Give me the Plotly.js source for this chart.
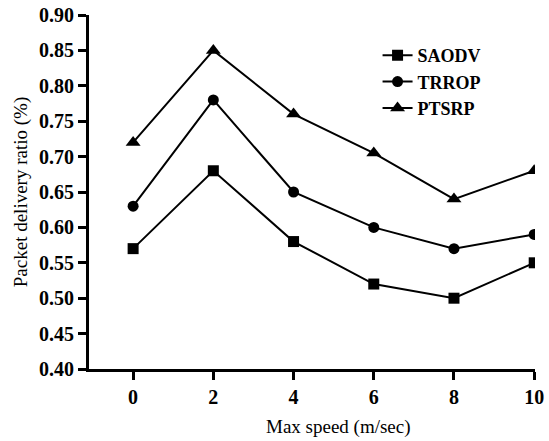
<!DOCTYPE html>
<html>
<head>
<meta charset="utf-8">
<script src="https://cdn.plot.ly/plotly-3.0.1.min.js"></script>
<style>html,body{margin:0;padding:0;background:#fff;}#chart{width:549px;height:441px;}</style>
</head>
<body>
<div id="chart"></div>
<script>
const speeds = [0, 2, 4, 6, 8, 10];
const saodv = [0.57, 0.68, 0.58, 0.52, 0.50, 0.55];
const trrop = [0.63, 0.78, 0.65, 0.60, 0.57, 0.59];
const ptsrp = [0.72, 0.85, 0.76, 0.705, 0.64, 0.68];
const yTicks = [0.40, 0.45, 0.50, 0.55, 0.60, 0.65, 0.70, 0.75, 0.80, 0.85, 0.90];
const xTicks = [0, 2, 4, 6, 8, 10];
const xTitle = 'Max speed (m/sec)';
const yTitle = 'Packet delivery ratio (%)';

const FAM = 'Liberation Serif';
const line = {color: '#000', width: 2};
const traces = [
  {x: speeds, y: saodv, name: 'SAODV', mode: 'lines+markers', line: line, marker: {symbol: 'square', size: 11, color: '#000'}},
  {x: speeds, y: trrop, name: 'TRROP', mode: 'lines+markers', line: line, marker: {symbol: 'circle', size: 11, color: '#000'}},
  {x: speeds, y: ptsrp, name: 'PTSRP', mode: 'lines+markers', line: line, marker: {symbol: 'triangle-up', size: 13, color: '#000'}}
];

const tickFont = {family: FAM, size: 20, color: '#000', weight: 700};
const layout = {
  width: 549, height: 441,
  margin: {l: 89, r: 14, t: 15, b: 72},
  paper_bgcolor: '#fff', plot_bgcolor: '#fff',
  font: {family: FAM, color: '#000'},
  showlegend: true,
  legend: {x: 0.647, y: 0.938, xanchor: 'left', yanchor: 'top', bgcolor: 'rgba(0,0,0,0)',
           font: {family: FAM, size: 18, color: '#000', weight: 700},
           tracegroupgap: 0, itemwidth: 30},
  xaxis: {
    range: [-1.1, 10.02], tickvals: xTicks, ticktext: xTicks.map(String),
    showgrid: false, zeroline: false, showline: true, linecolor: '#000', linewidth: 3,
    ticks: 'outside', ticklen: 8, tickwidth: 3, tickcolor: '#000',
    tickfont: tickFont
  },
  yaxis: {
    range: [0.40, 0.90], tickvals: yTicks, ticktext: yTicks.map(v => v.toFixed(2)),
    showgrid: false, zeroline: false, showline: true, linecolor: '#000', linewidth: 3,
    ticks: 'outside', ticklen: 8, tickwidth: 3, tickcolor: '#000',
    tickfont: tickFont,
    title: {text: yTitle, font: {family: FAM, size: 19, color: '#000'}, standoff: 7}
  },
  annotations: [
    {text: xTitle, xref: 'paper', yref: 'paper', x: 0.5605, y: -0.164, xanchor: 'center', yanchor: 'middle',
     showarrow: false, font: {family: FAM, size: 19, color: '#000'}}
  ]
};
Plotly.newPlot('chart', traces, layout, {staticPlot: true});
</script>
</body>
</html>
